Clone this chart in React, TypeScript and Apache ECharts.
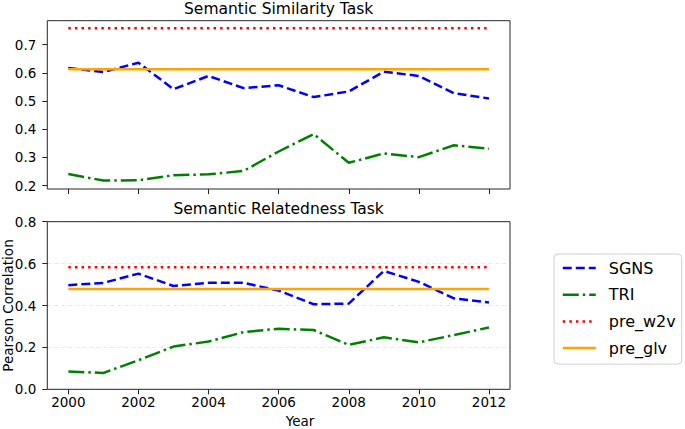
import { useEffect, useRef } from "react";
import * as echarts from "echarts";

const years = [2000, 2001, 2002, 2003, 2004, 2005, 2006, 2007, 2008, 2009, 2010, 2011, 2012];
const seriesNames = ["SGNS", "TRI", "pre_w2v", "pre_glv"];

// Semantic Similarity Task
const simSGNS = [0.617, 0.603, 0.636, 0.542, 0.589, 0.546, 0.556, 0.514, 0.534, 0.604, 0.589, 0.528, 0.509];
const simTRI = [0.241, 0.218, 0.219, 0.237, 0.24, 0.252, 0.321, 0.383, 0.281, 0.314, 0.301, 0.343, 0.331];
const simW2V = 0.758;
const simGLV = 0.613;

// Semantic Relatedness Task
const relSGNS = [0.497, 0.508, 0.552, 0.493, 0.508, 0.508, 0.471, 0.406, 0.409, 0.565, 0.513, 0.434, 0.414];
const relTRI = [0.085, 0.078, 0.139, 0.204, 0.228, 0.273, 0.289, 0.283, 0.212, 0.248, 0.224, 0.259, 0.295];
const relW2V = 0.583;
const relGLV = 0.479;

const xTicks = [2000, 2002, 2004, 2006, 2008, 2010, 2012];
const simYTicks = [0.2, 0.3, 0.4, 0.5, 0.6, 0.7];
const relYTicks = [0.0, 0.2, 0.4, 0.6, 0.8];

const FONT = "DejaVu Sans";
const FRAME = "#262626";

const lineStyles: Record<string, { color: string; type: any }> = {
  SGNS: { color: "#0000ff", type: [9, 4] },
  TRI: { color: "#008000", type: [16, 4, 2.5, 4] },
  pre_w2v: { color: "#ff0000", type: [2.5, 4.1] },
  pre_glv: { color: "#ffa500", type: "solid" },
};

function makeSeries(gridIdx: number, sgns: number[], tri: number[], w2v: number, glv: number) {
  const dataMap: Record<string, number[][]> = {
    SGNS: years.map((y, i) => [y, sgns[i]]),
    TRI: years.map((y, i) => [y, tri[i]]),
    pre_w2v: years.map((y) => [y, w2v]),
    pre_glv: years.map((y) => [y, glv]),
  };
  return seriesNames.map((name) => ({
    name,
    type: "line",
    xAxisIndex: gridIdx,
    yAxisIndex: gridIdx,
    data: dataMap[name],
    symbol: "none",
    showSymbol: false,
    color: lineStyles[name].color,
    lineStyle: { color: lineStyles[name].color, width: 2.5, type: lineStyles[name].type, cap: "butt" },
    emphasis: { disabled: true },
  }));
}

export default function App() {
  const ref = useRef<HTMLDivElement>(null);
  useEffect(() => {
    if (!ref.current) return;
    const chart = echarts.init(ref.current, undefined, { renderer: "svg" });
    const axisCommonX = {
      type: "value",
      min: 1999.4,
      max: 2012.6,
      axisLine: { show: false },
      splitLine: { show: false },
      axisTick: {
        show: true,
        customValues: xTicks,
        length: 5,
        inside: false,
        lineStyle: { color: FRAME, width: 1 },
      },
    };
    const plotLeft = 47.3;
    const plotWidth = 462.7;
    chart.setOption({
      animation: false,
      backgroundColor: "#ffffff",
      textStyle: { fontFamily: FONT },
      grid: [
        {
          left: plotLeft,
          top: 20.7,
          width: plotWidth,
          height: 168.3,
          show: true,
          z: 10,
          borderColor: FRAME,
          borderWidth: 1,
          backgroundColor: "transparent",
          outerBoundsMode: "none",
        },
        {
          left: plotLeft,
          top: 221.7,
          width: plotWidth,
          height: 167.6,
          show: true,
          z: 10,
          borderColor: FRAME,
          borderWidth: 1,
          backgroundColor: "transparent",
          outerBoundsMode: "none",
        },
      ],
      xAxis: [
        { ...axisCommonX, gridIndex: 0, axisLabel: { show: false } },
        {
          ...axisCommonX,
          gridIndex: 1,
          axisLabel: {
            show: true,
            customValues: xTicks,
            margin: 6,
            fontSize: 13.5,
            fontFamily: FONT,
            color: "#000",
            formatter: (v: number) => String(v),
          },
        },
      ],
      yAxis: [
        {
          type: "value",
          gridIndex: 0,
          min: 0.188,
          max: 0.785,
          axisLine: { show: false },
          splitLine: { show: false },
          axisTick: {
            show: true,
            customValues: simYTicks,
            length: 5,
            lineStyle: { color: FRAME, width: 1 },
          },
          axisLabel: {
            customValues: simYTicks,
            margin: 11,
            fontSize: 13.5,
            fontFamily: FONT,
            color: "#000",
            formatter: (v: number) => v.toFixed(1),
          },
        },
        {
          type: "value",
          gridIndex: 1,
          min: 0,
          max: 0.8,
          interval: 0.2,
          axisLine: { show: false },
          splitLine: { show: true, lineStyle: { color: "#e8e8e8", type: [4, 3], width: 1 } },
          axisTick: {
            show: true,
            customValues: relYTicks,
            length: 5,
            lineStyle: { color: FRAME, width: 1 },
          },
          axisLabel: {
            customValues: relYTicks,
            margin: 11,
            fontSize: 13.5,
            fontFamily: FONT,
            color: "#000",
            formatter: (v: number) => v.toFixed(1),
          },
          name: "Pearson Correlation",
          nameLocation: "middle",
          nameGap: 32,
          nameMoveOverlap: false,
          nameTextStyle: { fontSize: 13.5, fontFamily: FONT, color: "#000" },
        },
      ],
      legend: {
        orient: "vertical",
        left: 554,
        top: 254,
        data: seriesNames,
        itemWidth: 33,
        itemHeight: 14,
        itemGap: 10.7,
        padding: [6, 6, 8, 7.5],
        backgroundColor: "#fff",
        borderColor: "#d0d0d0",
        borderWidth: 1,
        borderRadius: 4,
        selectedMode: false,
        itemStyle: { opacity: 0, borderWidth: 0 },
        lineStyle: { width: 2.5 },
        textStyle: { fontSize: 16, fontFamily: FONT, color: "#000", padding: [0, 0, 0, 8] },
      },
      graphic: [
        {
          type: "text",
          x: plotLeft + plotWidth / 2,
          y: 9.3,
          style: {
            text: "Semantic Similarity Task",
            fontSize: 15.5,
            fontFamily: FONT,
            fill: "#000",
            textAlign: "center",
            textVerticalAlign: "middle",
          },
        },
        {
          type: "text",
          x: plotLeft + plotWidth / 2,
          y: 208.5,
          style: {
            text: "Semantic Relatedness Task",
            fontSize: 15.5,
            fontFamily: FONT,
            fill: "#000",
            textAlign: "center",
            textVerticalAlign: "middle",
          },
        },
        {
          type: "text",
          x: 300,
          y: 420.5,
          style: {
            text: "Year",
            fontSize: 13.5,
            fontFamily: FONT,
            fill: "#000",
            textAlign: "center",
            textVerticalAlign: "middle",
          },
        },
      ],
      series: [
        ...makeSeries(0, simSGNS, simTRI, simW2V, simGLV),
        ...makeSeries(1, relSGNS, relTRI, relW2V, relGLV),
      ],
    });
    return () => chart.dispose();
  }, []);
  return (
    <div
      ref={ref}
      style={{ position: "fixed", left: 0, top: 0, width: 685, height: 429, background: "#fff" }}
    />
  );
}
